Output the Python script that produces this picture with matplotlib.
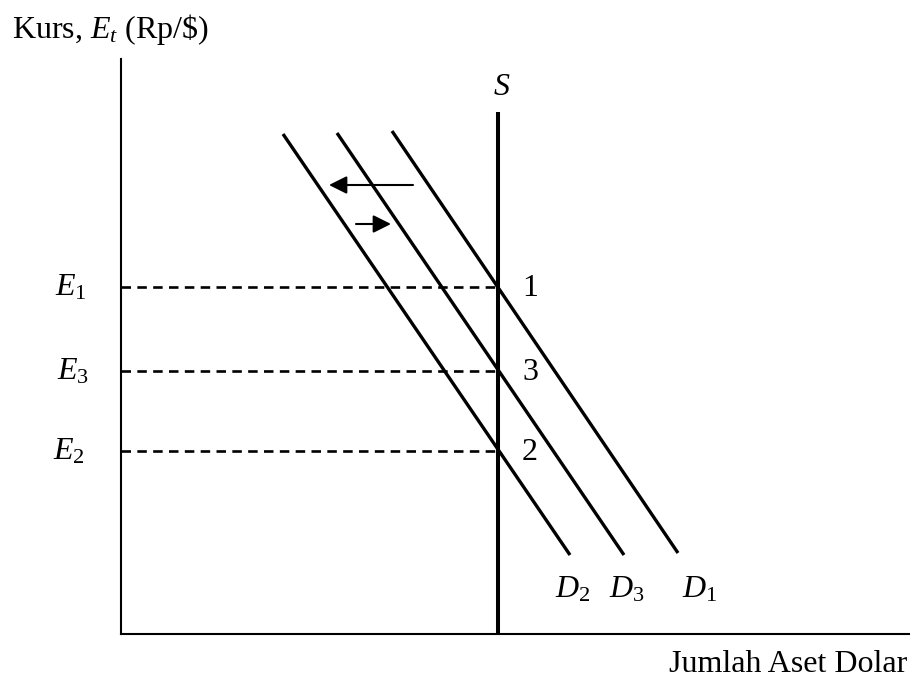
import matplotlib
matplotlib.use('Agg')
import matplotlib.pyplot as plt

plt.rcParams['font.family'] = ['Liberation Serif', 'DejaVu Serif']
plt.rcParams['mathtext.fontset'] = 'custom'
plt.rcParams['mathtext.rm'] = 'Liberation Serif'
plt.rcParams['mathtext.it'] = 'Liberation Serif:italic'
plt.rcParams['mathtext.bf'] = 'Liberation Serif:bold'

# Supply of dollar assets (vertical) and the three demand curves
supply_q = 377
supply_top = 522

demand_names = ['$D_{\\mathit{1}}$', '$D_3$', '$D_2$']
demand_start = [(271, 503), (216, 501), (162, 500)]
demand_end = [(557, 81), (503, 79), (449, 79)]
demand_label_x = [561, 488, 434]

# Equilibrium exchange rates and point numbers
rate_names = ['$E_{\\mathit{1}}$', '$E_3$', '$E_2$']
rate_values = [347, 263, 183]
rate_label_x = [-66, -64, -68]
point_names = ['1', '3', '2']

# Shift arrows (tail, head)
shifts = [((292, 449), (208, 449)), ((235, 410), (270, 410))]

W, H = 914, 680
fig = plt.figure(figsize=(W / 100, H / 100), dpi=100)
x0, y0, x1, y1 = 121, 634, 909, 59
ax = fig.add_axes([x0 / W, (H - y0) / H, (x1 - x0) / W, (y0 - y1) / H])
ax.set_xlim(0, x1 - x0)
ax.set_ylim(0, y0 - y1)
for side in ['top', 'right']:
    ax.spines[side].set_visible(False)
for side in ['left', 'bottom']:
    ax.spines[side].set_linewidth(1.5)
ax.set_xticks([])
ax.set_yticks([])

fs = 23

# supply curve
ax.plot([supply_q, supply_q], [0, supply_top], color='black', lw=2.9, solid_capstyle='butt')
ax.text(supply_q - 5, supply_top + 17, '$S$', fontsize=fs, ha='left', va='baseline')

# demand curves
for (xa, ya), (xb, yb), name, lx in zip(demand_start, demand_end, demand_names, demand_label_x):
    ax.plot([xa, xb], [ya, yb], color='black', lw=2.4, solid_capstyle='butt')
    ax.text(lx, 37, name, fontsize=fs, ha='left', va='baseline')

# equilibrium rates
for val, name, lx, pt in zip(rate_values, rate_names, rate_label_x, point_names):
    ax.plot([0, supply_q], [val, val], color='black', lw=1.9, dashes=(3.6, 2.4))
    ax.text(lx, val - 9, name, fontsize=fs, ha='left', va='baseline', clip_on=False)
    ax.text(supply_q + 24, val - 9, pt, fontsize=fs, ha='left', va='baseline')

for tail, head in shifts:
    ax.annotate('', xy=head, xytext=tail,
                arrowprops=dict(arrowstyle='-|>,head_length=0.6,head_width=0.3',
                                mutation_scale=18, color='black', lw=1.5,
                                shrinkA=0, shrinkB=0))

ax.text(-109, 596, 'Kurs, $E_t$ (Rp/\\$)', fontsize=fs, ha='left', va='baseline', clip_on=False)
ax.text(x1 - x0 - 2, -38, 'Jumlah Aset Dolar', fontsize=fs, ha='right', va='baseline', clip_on=False)

fig.savefig('out.png', dpi=100)
